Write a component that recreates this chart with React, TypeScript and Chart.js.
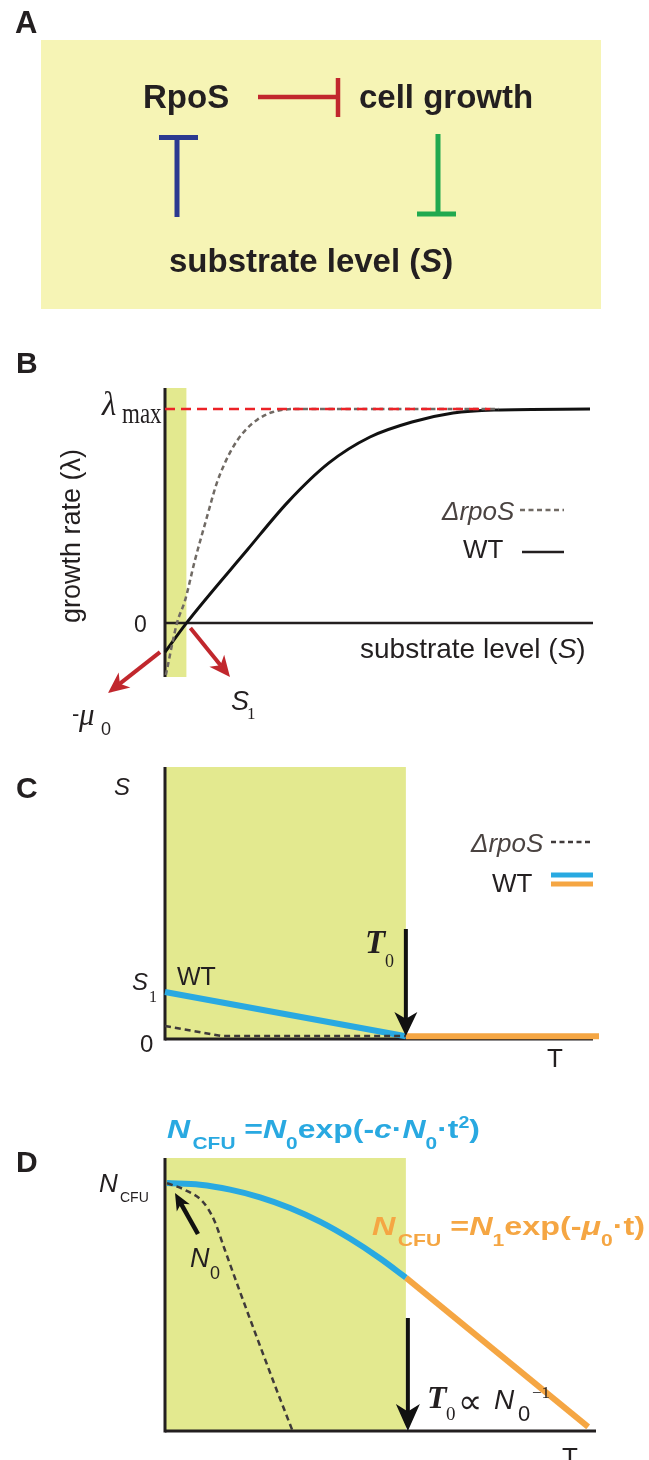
import React, { useEffect, useRef } from "react";
import { Chart, registerables } from "chart.js";

Chart.register(...registerables);

const SANS = '"Liberation Sans", Arial, Helvetica, sans-serif';
const SERIF = '"Liberation Serif", "Times New Roman", serif';
const INK = "#231f20";
const BLUE = "#29a9e1";
const ORANGE = "#f5a643";
const BAND = "#e3e98f";
const BOX = "#f6f4b5";
const RED = "#c1272d";
const RED_DASH = "#ec2227";
const NAVY = "#2b3990";
const GREEN = "#21a94f";
const GRAY_B = "#706a64";
const GRAY_CD = "#3f3a3a";
const LEGEND_TXT = "#4a4341";
const PAGE_W = 649;

// ---------- Panel B: growth rate (lambda) vs substrate level (S) ----------
const bWtSubstrate = [0, 5, 19.2, 28.7, 38.3, 47.9, 57.7, 67.3, 76.9, 99.3];
const bWtGrowth = [-0.136, 0, 0.341, 0.565, 0.748, 0.869, 0.939, 0.981, 0.995, 1];
const bRpoSSubstrate = [0.2, 2.8, 4.7, 7.0, 9.6, 12.1, 14.0, 15.9, 18.2, 21.5, 25.2, 31.1, 78];
const bRpoSGrowth = [-0.243, 0, 0.107, 0.294, 0.481, 0.654, 0.748, 0.822, 0.888, 0.949, 0.986, 1, 1];
const bLambdaMaxSubstrate = [0, 76];
const bLambdaMaxGrowth = [1, 1];
const bS1 = 5;

// ---------- Panel C: substrate level vs time ----------
const T0 = 55.5;
const cWtTime = [0, 55.5];
const cWtSubstrate = [1.73, 0.1];
const cRpoSTime = [0, 13.1, 55.5];
const cRpoSSubstrate = [0.48, 0.11, 0.11];
const cStarveTime = [55.5, 100];
const cStarveSubstrate = [0.1, 0.1];

// ---------- Panel D: N_CFU vs time ----------
const dWtTime = [0.46, 8.06, 15.0, 21.9, 28.8, 35.7, 42.6, 49.5, 55.5];
const dWtCfu = [9.08, 9.02, 8.84, 8.56, 8.17, 7.67, 7.05, 6.33, 5.62];
const dDecayTime = [55.5, 97.5];
const dDecayCfu = [5.62, 0.15];
const dRpoSTime = [0.46, 4.6, 8.76, 11.3, 13.8, 17.3, 21.4, 25.3, 29.3];
const dRpoSCfu = [9.08, 8.83, 8.39, 7.73, 6.63, 5.09, 3.33, 1.68, 0.04];

const pts = (xs: number[], ys: number[]) => xs.map((x, i) => ({ x, y: ys[i] }));

type Run = { t: string; f: string; c?: string; dx?: number; dy?: number };

function drawRuns(ctx: CanvasRenderingContext2D, x: number, y: number, items: Run[], color: string, targetWidth?: number) {
  let natural = 0;
  for (const it of items) {
    ctx.font = it.f;
    natural += (it.dx ?? 0) + ctx.measureText(it.t).width;
  }
  const sx = targetWidth ? targetWidth / natural : 1;
  ctx.save();
  ctx.translate(x, y);
  ctx.scale(sx, 1);
  ctx.textAlign = "left";
  ctx.textBaseline = "alphabetic";
  let cx = 0;
  for (const it of items) {
    ctx.font = it.f;
    ctx.fillStyle = it.c ?? color;
    cx += it.dx ?? 0;
    ctx.fillText(it.t, cx, it.dy ?? 0);
    cx += ctx.measureText(it.t).width;
  }
  ctx.restore();
}

function text(ctx: CanvasRenderingContext2D, t: string, x: number, y: number, font: string, color = INK, sy = 1) {
  ctx.save();
  ctx.font = font;
  ctx.fillStyle = color;
  ctx.textAlign = "left";
  ctx.textBaseline = "alphabetic";
  ctx.translate(x, y);
  ctx.scale(1, sy);
  ctx.fillText(t, 0, 0);
  ctx.restore();
}

function seg(ctx: CanvasRenderingContext2D, x1: number, y1: number, x2: number, y2: number) {
  ctx.beginPath();
  ctx.moveTo(x1, y1);
  ctx.lineTo(x2, y2);
  ctx.stroke();
}

function arrow(ctx: CanvasRenderingContext2D, x1: number, y1: number, x2: number, y2: number, color: string, lw: number, hl: number, hw: number) {
  const a = Math.atan2(y2 - y1, x2 - x1);
  const ux = Math.cos(a), uy = Math.sin(a);
  const px = -uy, py = ux;
  ctx.save();
  ctx.strokeStyle = color;
  ctx.fillStyle = color;
  ctx.lineWidth = lw;
  ctx.lineCap = "butt";
  seg(ctx, x1, y1, x2 - ux * hl * 0.7, y2 - uy * hl * 0.7);
  const bx = x2 - ux * hl, by = y2 - uy * hl;
  ctx.beginPath();
  ctx.moveTo(x2, y2);
  ctx.lineTo(bx + (px * hw) / 2, by + (py * hw) / 2);
  ctx.lineTo(x2 - ux * hl * 0.72, y2 - uy * hl * 0.72);
  ctx.lineTo(bx - (px * hw) / 2, by - (py * hw) / 2);
  ctx.closePath();
  ctx.fill();
  ctx.restore();
}

type DrawFn = (chart: any, ctx: CanvasRenderingContext2D, off: number) => void;

type PanelProps = {
  top: number;
  height: number;
  padding: { left: number; right: number; top: number; bottom: number };
  xRange: [number, number];
  yRange: [number, number];
  datasets: any[];
  under?: DrawFn;
  over?: DrawFn;
};

function Panel(p: PanelProps) {
  const ref = useRef<HTMLCanvasElement | null>(null);
  useEffect(() => {
    const canvas = ref.current;
    if (!canvas) return;
    const chart = new Chart(canvas, {
      type: "line",
      data: { datasets: p.datasets },
      options: {
        animation: false,
        responsive: false,
        maintainAspectRatio: false,
        devicePixelRatio: 1,
        events: [],
        layout: { padding: p.padding },
        plugins: { legend: { display: false }, tooltip: { enabled: false } },
        elements: { point: { radius: 0 } },
        scales: {
          x: { type: "linear", display: false, min: p.xRange[0], max: p.xRange[1] },
          y: { type: "linear", display: false, min: p.yRange[0], max: p.yRange[1] },
        },
      },
      plugins: [
        {
          id: "figureDecor",
          beforeDatasetsDraw(c: any) {
            if (!p.under) return;
            const ctx = c.ctx as CanvasRenderingContext2D;
            ctx.save();
            p.under(c, ctx, p.top);
            ctx.restore();
          },
          afterDatasetsDraw(c: any) {
            if (!p.over) return;
            const ctx = c.ctx as CanvasRenderingContext2D;
            ctx.save();
            p.over(c, ctx, p.top);
            ctx.restore();
          },
        },
      ],
    } as any);
    return () => chart.destroy();
  }, []);
  return (
    <canvas
      ref={ref}
      width={PAGE_W}
      height={p.height}
      style={{ position: "absolute", left: 0, top: p.top, width: PAGE_W, height: p.height, display: "block" }}
    />
  );
}

// ---------- Panel A (schematic) ----------
const drawA: DrawFn = (_c, ctx, off) => {
  const Y = (v: number) => v - off;
  ctx.fillStyle = BOX;
  ctx.fillRect(41, Y(40), 560, 269);
  text(ctx, "A", 15, Y(33), `bold 31px ${SANS}`);
  text(ctx, "RpoS", 143, Y(108), `bold 33px ${SANS}`);
  text(ctx, "cell growth", 359, Y(108), `bold 33px ${SANS}`);
  drawRuns(ctx, 169, Y(272), [
    { t: "substrate level (", f: `bold 33px ${SANS}` },
    { t: "S", f: `italic bold 33px ${SANS}` },
    { t: ")", f: `bold 33px ${SANS}` },
  ], INK);
  ctx.lineCap = "butt";
  ctx.strokeStyle = RED;
  ctx.lineWidth = 4.5;
  seg(ctx, 258, Y(97), 338, Y(97));
  seg(ctx, 338, Y(78), 338, Y(117));
  ctx.strokeStyle = NAVY;
  ctx.lineWidth = 5;
  seg(ctx, 159, Y(137.5), 198, Y(137.5));
  seg(ctx, 177, Y(137), 177, Y(217));
  ctx.strokeStyle = GREEN;
  seg(ctx, 438, Y(134), 438, Y(214));
  seg(ctx, 417, Y(214), 456, Y(214));
};

// ---------- Panel B ----------
const underB: DrawFn = (c, ctx) => {
  const xs = c.scales.x, ys = c.scales.y, a = c.chartArea;
  const x0 = xs.getPixelForValue(0), x1 = xs.getPixelForValue(bS1);
  ctx.fillStyle = BAND;
  ctx.fillRect(x0, a.top, x1 - x0, a.bottom - a.top);
  ctx.strokeStyle = INK;
  ctx.lineWidth = 3;
  seg(ctx, x0, a.top, x0, a.bottom);
  const y0 = ys.getPixelForValue(0);
  ctx.lineWidth = 2.5;
  seg(ctx, x0, y0, a.right, y0);
};

const overB: DrawFn = (c, ctx, off) => {
  const Y = (v: number) => v - off;
  text(ctx, "B", 16, Y(373), `bold 30px ${SANS}`);
  text(ctx, "λ", 102, Y(415), `italic 33px ${SERIF}`);
  text(ctx, "max", 122, Y(423), `23px ${SERIF}`, INK, 1.3);
  text(ctx, "0", 134, Y(632), `23px ${SANS}`);
  ctx.save();
  ctx.translate(80, Y(536));
  ctx.rotate(-Math.PI / 2);
  ctx.font = `27px ${SANS}`;
  ctx.fillStyle = INK;
  ctx.textAlign = "center";
  ctx.textBaseline = "alphabetic";
  ctx.fillText("growth rate (λ)", 0, 0);
  ctx.restore();
  drawRuns(ctx, 360, Y(658), [
    { t: "substrate level (", f: `28px ${SANS}` },
    { t: "S", f: `italic 28px ${SANS}` },
    { t: ")", f: `28px ${SANS}` },
  ], INK);
  // legend
  text(ctx, "ΔrpoS", 442, Y(520), `italic 26px ${SANS}`, LEGEND_TXT);
  ctx.save();
  ctx.strokeStyle = GRAY_B;
  ctx.lineWidth = 2.5;
  ctx.setLineDash([5, 3.5]);
  seg(ctx, 520, Y(510), 564, Y(510));
  ctx.restore();
  text(ctx, "WT", 463, Y(558), `26px ${SANS}`);
  ctx.strokeStyle = INK;
  ctx.lineWidth = 2.5;
  seg(ctx, 522, Y(552), 564, Y(552));
  // red arrows
  const xs = c.scales.x, ys = c.scales.y;
  const yi = ys.getPixelForValue(bWtGrowth[0]);
  const xS1 = xs.getPixelForValue(bS1);
  const y0 = ys.getPixelForValue(0);
  arrow(ctx, 160, yi, 108, Y(693), RED, 4, 21, 19);
  arrow(ctx, xS1 + 4, y0 + 5, 230, Y(677), RED, 4, 21, 19);
  text(ctx, "-", 72, Y(721), `22px ${SANS}`);
  text(ctx, "μ", 79, Y(725), `italic 31px ${SERIF}`);
  text(ctx, "0", 101, Y(735), `18px ${SANS}`);
  text(ctx, "S", 231, Y(710), `italic 27px ${SANS}`);
  text(ctx, "1", 247, Y(719), `17px ${SERIF}`);
};

// ---------- Panel C ----------
const underC: DrawFn = (c, ctx) => {
  const xs = c.scales.x, a = c.chartArea;
  const x0 = xs.getPixelForValue(0), xt = xs.getPixelForValue(T0);
  ctx.fillStyle = BAND;
  ctx.fillRect(x0, a.top, xt - x0, a.bottom - a.top + 1);
  ctx.strokeStyle = INK;
  ctx.lineWidth = 3;
  seg(ctx, x0, a.top, x0, a.bottom + 1.5);
  seg(ctx, x0, a.bottom, 593, a.bottom);
};

const overC: DrawFn = (c, ctx, off) => {
  const Y = (v: number) => v - off;
  const xt = c.scales.x.getPixelForValue(T0);
  text(ctx, "C", 16, Y(798), `bold 30px ${SANS}`);
  text(ctx, "S", 114, Y(795), `italic 24px ${SANS}`);
  text(ctx, "S", 132, Y(990), `italic 24px ${SANS}`);
  text(ctx, "1", 149, Y(1002), `16px ${SERIF}`);
  text(ctx, "WT", 177, Y(985), `25px ${SANS}`);
  text(ctx, "0", 140, Y(1052), `24px ${SANS}`);
  text(ctx, "T", 365, Y(953), `italic bold 33px ${SERIF}`);
  text(ctx, "0", 385, Y(967), `18px ${SERIF}`);
  text(ctx, "T", 547, Y(1067), `26px ${SANS}`);
  arrow(ctx, xt, Y(929), xt, Y(1036), "#111", 4, 24, 23);
  // legend
  text(ctx, "ΔrpoS", 471, Y(852), `italic 26px ${SANS}`, LEGEND_TXT);
  ctx.save();
  ctx.strokeStyle = GRAY_CD;
  ctx.lineWidth = 2.5;
  ctx.setLineDash([5, 3.5]);
  seg(ctx, 551, Y(842), 593, Y(842));
  ctx.restore();
  text(ctx, "WT", 492, Y(892), `26px ${SANS}`);
  ctx.lineWidth = 5;
  ctx.strokeStyle = BLUE;
  seg(ctx, 551, Y(875), 593, Y(875));
  ctx.strokeStyle = ORANGE;
  seg(ctx, 551, Y(884), 593, Y(884));
};

// ---------- Panel D ----------
const underD: DrawFn = (c, ctx) => {
  const xs = c.scales.x, a = c.chartArea;
  const x0 = xs.getPixelForValue(0), xt = xs.getPixelForValue(T0);
  ctx.fillStyle = BAND;
  ctx.fillRect(x0, a.top, xt - x0, a.bottom - a.top);
  ctx.strokeStyle = INK;
  ctx.lineWidth = 3;
  seg(ctx, x0, a.top, x0, a.bottom + 1.5);
  seg(ctx, x0, a.bottom, 596, a.bottom);
};

const overD: DrawFn = (c, ctx, off) => {
  const Y = (v: number) => v - off;
  const xt = c.scales.x.getPixelForValue(T0);
  text(ctx, "D", 16, Y(1172), `bold 30px ${SANS}`);
  drawRuns(ctx, 167, Y(1138), [
    { t: "N", f: `italic bold 26px ${SANS}` },
    { t: "CFU", f: `bold 17px ${SANS}`, dx: 2, dy: 11 },
    { t: " =", f: `bold 26px ${SANS}` },
    { t: "N", f: `italic bold 26px ${SANS}` },
    { t: "0", f: `bold 17px ${SANS}`, dy: 11 },
    { t: "exp(-", f: `bold 26px ${SANS}` },
    { t: "c", f: `italic bold 26px ${SANS}` },
    { t: "·", f: `bold 26px ${SANS}` },
    { t: "N", f: `italic bold 26px ${SANS}` },
    { t: "0", f: `bold 17px ${SANS}`, dy: 11 },
    { t: "·t", f: `bold 26px ${SANS}` },
    { t: "2", f: `bold 16px ${SANS}`, dy: -10 },
    { t: ")", f: `bold 26px ${SANS}` },
  ], BLUE, 313);
  drawRuns(ctx, 372, Y(1235), [
    { t: "N", f: `italic bold 26px ${SANS}` },
    { t: "CFU", f: `bold 17px ${SANS}`, dx: 2, dy: 11 },
    { t: " =", f: `bold 26px ${SANS}` },
    { t: "N", f: `italic bold 26px ${SANS}` },
    { t: "1", f: `bold 17px ${SANS}`, dy: 11 },
    { t: "exp(-", f: `bold 26px ${SANS}` },
    { t: "μ", f: `italic bold 26px ${SANS}` },
    { t: "0", f: `bold 17px ${SANS}`, dy: 11 },
    { t: "·t)", f: `bold 26px ${SANS}` },
  ], ORANGE, 273);
  text(ctx, "N", 99, Y(1192), `italic 26px ${SANS}`);
  text(ctx, "CFU", 120, Y(1202), `14px ${SANS}`);
  text(ctx, "N", 190, Y(1267), `italic 27px ${SANS}`);
  text(ctx, "0", 210, Y(1279), `18px ${SANS}`);
  arrow(ctx, 198, Y(1234), 175, Y(1193), "#111", 4.5, 17, 15);
  arrow(ctx, xt + 2, Y(1318), xt + 2, Y(1431), "#111", 4, 27, 24);
  text(ctx, "T", 427, Y(1408), `italic bold 32px ${SERIF}`);
  text(ctx, "0", 446, Y(1420), `19px ${SERIF}`);
  text(ctx, "∝", 458, Y(1413), `34px ${SERIF}`);
  text(ctx, "N", 494, Y(1409), `italic 28px ${SANS}`);
  text(ctx, "0", 518, Y(1421), `22px ${SANS}`);
  text(ctx, "−1", 532, Y(1398), `17px ${SERIF}`);
  text(ctx, "T", 562, Y(1466), `26px ${SANS}`);
};

const lineDs = (data: { x: number; y: number }[], color: string, width: number, extra: any = {}) => ({
  data,
  borderColor: color,
  borderWidth: width,
  pointRadius: 0,
  fill: false,
  tension: 0,
  clip: false,
  borderCapStyle: "butt",
  ...extra,
});

export default function App() {
  const datasetsB = [
    lineDs(pts(bLambdaMaxSubstrate, bLambdaMaxGrowth), RED_DASH, 2.5, { borderDash: [10, 6] }),
    lineDs(pts(bRpoSSubstrate, bRpoSGrowth), GRAY_B, 2.5, { borderDash: [5, 3.5], cubicInterpolationMode: "monotone" }),
    lineDs(pts(bWtSubstrate, bWtGrowth), "#111111", 3, { cubicInterpolationMode: "monotone" }),
  ];
  const datasetsC = [
    lineDs(pts(cRpoSTime, cRpoSSubstrate), GRAY_CD, 2.5, { borderDash: [6, 4] }),
    lineDs(pts(cWtTime, cWtSubstrate), BLUE, 6),
    lineDs(pts(cStarveTime, cStarveSubstrate), ORANGE, 6),
  ];
  const datasetsD = [
    lineDs(pts(dRpoSTime, dRpoSCfu), GRAY_CD, 2.5, { borderDash: [6, 4], cubicInterpolationMode: "monotone" }),
    lineDs(pts(dWtTime, dWtCfu), BLUE, 6, { cubicInterpolationMode: "monotone" }),
    lineDs(pts(dDecayTime, dDecayCfu), ORANGE, 6),
  ];
  return (
    <div style={{ position: "absolute", left: 0, top: 0, width: PAGE_W, height: 1460, background: "#ffffff", overflow: "hidden" }}>
      <Panel top={0} height={320} padding={{ left: 41, right: 48, top: 40, bottom: 11 }} xRange={[0, 1]} yRange={[0, 1]} datasets={[]} over={drawA} />
      <Panel top={320} height={420} padding={{ left: 165, right: 56, top: 68, bottom: 63 }} xRange={[0, 100]} yRange={[-0.252, 1.098]} datasets={datasetsB} under={underB} over={overB} />
      <Panel top={740} height={350} padding={{ left: 165, right: 50, top: 27, bottom: 51 }} xRange={[0, 100]} yRange={[0, 10]} datasets={datasetsC} under={underC} over={overC} />
      <Panel top={1090} height={370} padding={{ left: 165, right: 50, top: 68, bottom: 29 }} xRange={[0, 100]} yRange={[0, 10]} datasets={datasetsD} under={underD} over={overD} />
    </div>
  );
}
